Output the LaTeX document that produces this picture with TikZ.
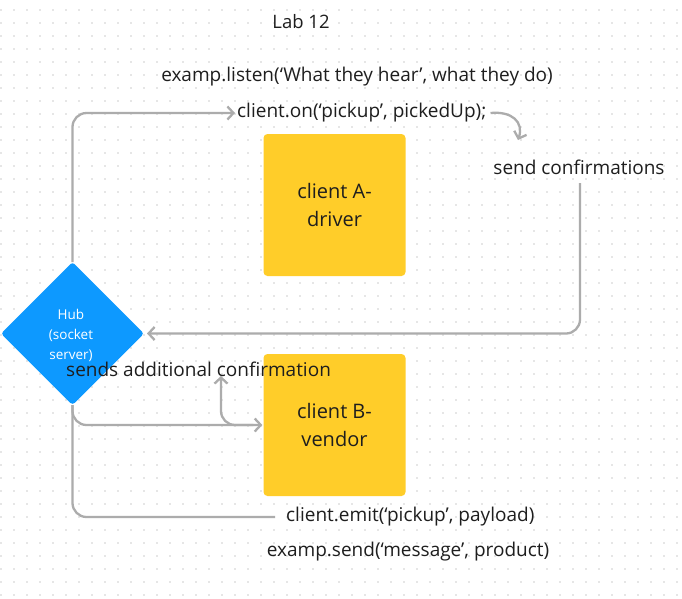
\documentclass[tikz,border=0pt]{standalone}
\usepackage{fontspec}
\setmainfont{Open Sans}
\usetikzlibrary{arrows.meta,calc}
\definecolor{linegray}{RGB}{172,172,172}
\definecolor{dotgray}{RGB}{205,205,205}
\definecolor{boxyellow}{RGB}{255,205,41}
\definecolor{hubblue}{RGB}{13,153,255}
\definecolor{txt}{RGB}{30,30,30}
\tikzset{
  conn/.style={draw=linegray,line width=2.3pt,rounded corners=14pt},
  tip/.style={-{Straight Barb[length=6pt,width=13pt,line width=2.3pt]}},
  label/.style={font=\fontsize{19}{22}\selectfont,text=txt,inner sep=0pt},
  clientbox/.style={fill=boxyellow,rounded corners=4pt,minimum width=142pt,minimum height=142pt,inner sep=0pt,align=center,font=\fontsize{20}{28}\selectfont,text=txt},
}
\begin{document}
\begin{tikzpicture}[x=1pt,y=-1pt]
\useasboundingbox (0,0) rectangle (682,598);
\fill[white] (0,0) rectangle (682,598);
\foreach \i in {0,...,52}{
  \foreach \j in {0,...,45}{
    \fill[dotgray] (1+13*\i,10+13*\j) circle (0.8pt);
  }
}
% hub diamond
\coordinate (hub) at (72.5,333.5);
\coordinate (hubN) at (72.5,262);
\coordinate (hubS) at (72.5,405);
\coordinate (hubE) at (144,333.5);
\coordinate (hubW) at (1,333.5);
\fill[hubblue,rounded corners=3pt] (hubN) -- (hubE) -- (hubS) -- (hubW) -- cycle;
\node[align=center,text=white,font=\fontsize{13.5}{20}\selectfont,inner sep=0pt] (hubtxt) at (71,335) {Hub\\(socket\\server)};
% boxes
\node[clientbox] (cA) at (334.5,205) {client A-\\driver};
\node[clientbox] (cB) at (334.5,425) {client B-\\vendor};
% texts
\node[label,font=\fontsize{18.5}{22}\selectfont] (lab) at (301,22) {Lab 12};
\node[label] (listen) at (357,77) {examp.listen(‘What they hear’, what they do)};
\node[label,anchor=west] (on) at (237,113) {client.on(‘pickup’, pickedUp);};
\node[label] (sendc) at (579,167) {send confirmations};
\node[label,anchor=west] (sends) at (66,369) {sends additional confirmation};
\node[label,anchor=west] (emit) at (286,517) {client.emit(‘pickup’, payload)};
\node[label] (esend) at (408,552) {examp.send(‘message’, product)};
% connectors
\coordinate (onW) at ($(on.west)+(-2,0)$);
\draw[conn,tip] (hubN) |- (onW);
\coordinate (curveS) at ($(on.east)+(4,0)$);
\coordinate (curveE) at (518,140);
\draw[draw=linegray,line width=2.3pt,tip] (curveS) .. controls (512,111) and (524,122) .. (curveE);
\coordinate (sendcS) at (580,183);
\draw[conn,tip] (sendcS) |- ($(hubE)+(3,0)$);
\draw[conn,tip] (hubS) |- ($(cB.west)+(-1,0)$);
\coordinate (sendsB) at (221,376);
\draw[conn,tip] ($(cB.west)+(-10,0)$) -| (sendsB);
\coordinate (emitW) at ($(emit.west)+(-11,0)$);
\draw[conn] (hubS) |- (emitW);
\end{tikzpicture}
\end{document}
